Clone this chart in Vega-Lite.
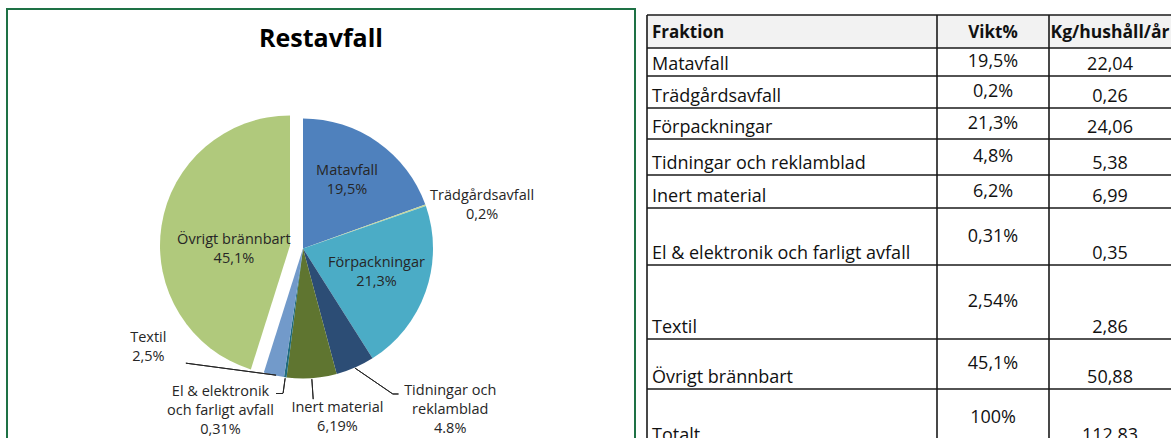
{
  "$schema": "https://vega.github.io/schema/vega-lite/v6.json",
  "padding": {"left": 6, "top": 8, "right": 0, "bottom": 0},
  "background": "white",
  "spacing": 10,
  "config": {"view": {"stroke": null}, "font": "Open Sans", "axis": {"disable": true}},
  "datasets": {
    "pie": [
      {"order": 1, "fraktion": "Matavfall", "vikt": 19.5, "label": "Matavfall\n19,5%"},
      {"order": 2, "fraktion": "Trädgårdsavfall", "vikt": 0.2, "label": "Trädgårdsavfall\n0,2%"},
      {"order": 3, "fraktion": "Förpackningar", "vikt": 21.3, "label": "Förpackningar\n21,3%"},
      {"order": 4, "fraktion": "Tidningar och reklamblad", "vikt": 4.8, "label": "Tidningar och\nreklamblad\n4.8%"},
      {"order": 5, "fraktion": "Inert material", "vikt": 6.19, "label": "Inert material\n6,19%"},
      {"order": 6, "fraktion": "El & elektronik och farligt avfall", "vikt": 0.31, "label": "El & elektronik\noch farligt avfall\n0,31%"},
      {"order": 7, "fraktion": "Textil", "vikt": 2.54, "label": "Textil\n2,5%"},
      {"order": 8, "fraktion": "Övrigt brännbart", "vikt": 45.1, "label": "Övrigt brännbart\n45,1%"}
    ],
    "table": [
      {"row": 1, "fraktion": "Fraktion", "vikt": "Vikt%", "kg": "Kg/hushåll/år"},
      {"row": 2, "fraktion": "Matavfall", "vikt": "19,5%", "kg": "22,04"},
      {"row": 3, "fraktion": "Trädgårdsavfall", "vikt": "0,2%", "kg": "0,26"},
      {"row": 4, "fraktion": "Förpackningar", "vikt": "21,3%", "kg": "24,06"},
      {"row": 5, "fraktion": "Tidningar och reklamblad", "vikt": "4,8%", "kg": "5,38"},
      {"row": 6, "fraktion": "Inert material", "vikt": "6,2%", "kg": "6,99"},
      {"row": 7, "fraktion": "El & elektronik och farligt avfall", "vikt": "0,31%", "kg": "0,35"},
      {"row": 8, "fraktion": "Textil", "vikt": "2,54%", "kg": "2,86"},
      {"row": 9, "fraktion": "Övrigt brännbart", "vikt": "45,1%", "kg": "50,88"},
      {"row": 10, "fraktion": "Totalt", "vikt": "100%", "kg": "112,83"}
    ]
  },
  "hconcat": [
    {
      "width": 628,
      "height": 431,
      "view": {"stroke": "#1e7145", "strokeWidth": 2},
      "title": {"text": "Restavfall", "font": "Open Sans", "fontSize": 25, "fontWeight": "bold", "color": "#000000", "anchor": "middle", "frame": "group", "baseline": "alphabetic", "offset": -63},
      "data": {"name": "pie"},
      "resolve": {"scale": {"theta": "independent"}},
      "layer": [
        {
          "encoding": {
            "theta": {"field": "vikt", "type": "quantitative", "stack": true},
            "order": {"field": "order", "type": "quantitative"},
            "color": {
              "field": "fraktion", "type": "nominal", "legend": null,
              "scale": {
                "domain": ["Matavfall", "Trädgårdsavfall", "Förpackningar", "Tidningar och reklamblad", "Inert material", "El & elektronik och farligt avfall", "Textil", "Övrigt brännbart"],
                "range": ["#4f81bd", "#c4d79b", "#4bacc6", "#2c4d75", "#5f7530", "#1f6b7e", "#729aca", "#b0c97c"]
              }
            }
          },
          "layer": [
            {
              "mark": {"type": "arc", "outerRadius": 130, "xOffset": -18, "yOffset": 24},
              "encoding": {"opacity": {"condition": {"test": "datum.fraktion === 'Övrigt brännbart'", "value": 0}, "value": 1}}
            },
            {
              "mark": {"type": "arc", "outerRadius": 130, "xOffset": -31, "yOffset": 21},
              "encoding": {"opacity": {"condition": {"test": "datum.fraktion === 'Övrigt brännbart'", "value": 1}, "value": 0}}
            },
            {
              "mark": {"type": "arc", "innerRadius": 131, "outerRadius": 151, "padAngle": 0.6, "xOffset": -18, "yOffset": 24, "filled": false, "strokeWidth": 1},
              "encoding": {
                "color": {"value": "#262626"},
                "opacity": {"condition": {"test": "datum.fraktion === 'Inert material'", "value": 1}, "value": 0}
              }
            },
            {
              "mark": {"type": "arc", "innerRadius": 131, "outerRadius": 146, "padAngle": 0.6, "xOffset": -18, "yOffset": 24, "filled": false, "strokeWidth": 1},
              "encoding": {
                "color": {"value": "#262626"},
                "opacity": {"condition": {"test": "datum.fraktion === 'El & elektronik och farligt avfall'", "value": 1}, "value": 0}
              }
            },
            {
              "mark": {"type": "text", "radius": 80, "xOffset": -18, "yOffset": 24, "dx": -2, "dy": -12, "fontSize": 14.5, "lineBreak": "\n", "lineHeight": 19, "align": "center", "baseline": "middle"},
              "encoding": {
                "text": {"condition": {"test": "datum.fraktion === 'Matavfall' || datum.fraktion === 'Förpackningar'", "field": "label", "type": "nominal"}, "value": ""},
                "color": {"value": "#262626"}
              }
            },
            {
              "mark": {"type": "text", "radius": 78, "xOffset": -31, "yOffset": 21, "dx": 21, "dy": 6, "fontSize": 14.5, "lineBreak": "\n", "lineHeight": 19, "align": "center", "baseline": "middle"},
              "encoding": {
                "text": {"condition": {"test": "datum.fraktion === 'Övrigt brännbart'", "field": "label", "type": "nominal"}, "value": ""},
                "color": {"value": "#262626"}
              }
            },
            {
              "mark": {"type": "text", "radius": 175, "xOffset": -18, "yOffset": 24, "dx": 14, "dy": 5.5, "fontSize": 14.5, "lineBreak": "\n", "lineHeight": 19, "align": "center", "baseline": "middle"},
              "encoding": {
                "text": {"condition": {"test": "datum.fraktion === 'Trädgårdsavfall'", "field": "label", "type": "nominal"}, "value": ""},
                "color": {"value": "#262626"}
              }
            },
            {
              "mark": {"type": "text", "radius": 150, "xOffset": -18, "yOffset": 24, "dx": 87, "dy": 5, "fontSize": 14.5, "lineBreak": "\n", "lineHeight": 19, "align": "center", "baseline": "middle"},
              "encoding": {
                "text": {"condition": {"test": "datum.fraktion === 'Tidningar och reklamblad'", "field": "label", "type": "nominal"}, "value": ""},
                "color": {"value": "#262626"}
              }
            },
            {
              "mark": {"type": "text", "radius": 169, "xOffset": -18, "yOffset": 24, "dx": 23, "dy": -9.5, "fontSize": 14.5, "lineBreak": "\n", "lineHeight": 19, "align": "center", "baseline": "middle"},
              "encoding": {
                "text": {"condition": {"test": "datum.fraktion === 'Inert material'", "field": "label", "type": "nominal"}, "value": ""},
                "color": {"value": "#262626"}
              }
            },
            {
              "mark": {"type": "text", "radius": 165, "xOffset": -18, "yOffset": 24, "dx": -60, "dy": -20, "fontSize": 14.5, "lineBreak": "\n", "lineHeight": 19, "align": "center", "baseline": "middle"},
              "encoding": {
                "text": {"condition": {"test": "datum.fraktion === 'El & elektronik och farligt avfall'", "field": "label", "type": "nominal"}, "value": ""},
                "color": {"value": "#262626"}
              }
            },
            {
              "mark": {"type": "text", "radius": 150, "xOffset": -18, "yOffset": 24, "dx": -121, "dy": -56.5, "fontSize": 14.5, "lineBreak": "\n", "lineHeight": 19, "align": "center", "baseline": "middle"},
              "encoding": {
                "text": {"condition": {"test": "datum.fraktion === 'Textil'", "field": "label", "type": "nominal"}, "value": ""},
                "color": {"value": "#262626"}
              }
            }
          ]
        },
        {
          "mark": {"type": "arc", "innerRadius": 10, "outerRadius": 101, "padAngle": 0.6, "xOffset": -35, "yOffset": 152, "filled": false, "strokeWidth": 1},
          "encoding": {
            "theta": {"field": "vikt", "type": "quantitative", "stack": true, "scale": {"range": [1.477, 7.760]}},
            "order": {"field": "order", "type": "quantitative"},
            "color": {"value": "#262626"},
            "opacity": {"condition": {"test": "datum.fraktion === 'Textil'", "value": 1}, "value": 0}
          }
        },
        {
          "mark": {"type": "arc", "innerRadius": 10, "outerRadius": 56, "padAngle": 0.6, "xOffset": 25.7, "yOffset": 137.9, "filled": false, "strokeWidth": 1},
          "encoding": {
            "theta": {"field": "vikt", "type": "quantitative", "stack": true, "scale": {"range": [-0.557, 5.726]}},
            "order": {"field": "order", "type": "quantitative"},
            "color": {"value": "#262626"},
            "opacity": {"condition": {"test": "datum.fraktion === 'Tidningar och reklamblad'", "value": 1}, "value": 0}
          }
        },
        {
          "mark": {"type": "arc", "innerRadius": 10, "outerRadius": 15.5, "padAngle": 0.6, "xOffset": 62, "yOffset": 169.5, "filled": false, "strokeWidth": 1},
          "encoding": {
            "theta": {"field": "vikt", "type": "quantitative", "stack": true, "scale": {"range": [-1.158, 5.125]}},
            "order": {"field": "order", "type": "quantitative"},
            "color": {"value": "#262626"},
            "opacity": {"condition": {"test": "datum.fraktion === 'Tidningar och reklamblad'", "value": 1}, "value": 0}
          }
        },
        {
          "mark": {"type": "arc", "innerRadius": 10, "outerRadius": 17, "padAngle": 0.6, "xOffset": -28, "yOffset": 169, "filled": false, "strokeWidth": 1},
          "encoding": {
            "theta": {"field": "vikt", "type": "quantitative", "stack": true, "scale": {"range": [1.434, 7.717]}},
            "order": {"field": "order", "type": "quantitative"},
            "color": {"value": "#262626"},
            "opacity": {"condition": {"test": "datum.fraktion === 'El & elektronik och farligt avfall'", "value": 1}, "value": 0}
          }
        }
      ]
    },
    {
      "width": 525,
      "height": 430,
      "data": {"name": "table"},
      "resolve": {"scale": {"y": "independent"}},
      "layer": [
        {
          "layer": [
            {
              "transform": [{"filter": "datum.row === 1"}],
              "mark": {"type": "rect", "color": "#f2f2f2", "clip": true},
              "encoding": {
                "x": {"datum": 0, "type": "quantitative", "axis": null, "scale": {"type": "linear", "domain": [0, 1, 2, 3], "range": [1, 291, 403, 525], "nice": false, "zero": false}},
                "x2": {"datum": 3},
                "y": {"datum": 0, "type": "quantitative", "axis": null, "scale": {"type": "linear", "domain": [0, 1, 2, 3, 4, 5, 6, 7, 8, 9, 10], "range": [6, 39, 67, 99, 130, 166, 199, 256, 330, 380, 438], "nice": false, "zero": false}},
                "y2": {"datum": 1}
              }
            },
            {
              "transform": [{"filter": "datum.row < 10"}],
              "mark": {"type": "rule", "color": "#1a1a1a", "strokeWidth": 1.6, "clip": true},
              "encoding": {
                "x": {"datum": 0, "type": "quantitative"},
                "x2": {"datum": 3},
                "y": {"field": "row", "type": "quantitative", "axis": null}
              }
            },
            {
              "transform": [{"filter": "datum.row === 1"}],
              "mark": {"type": "rule", "color": "#1a1a1a", "strokeWidth": 1.6, "clip": true},
              "encoding": {
                "x": {"datum": 0, "type": "quantitative"},
                "x2": {"datum": 3},
                "y": {"datum": 0, "type": "quantitative"}
              }
            },
            {
              "transform": [{"filter": "datum.row === 1"}],
              "mark": {"type": "rule", "color": "#1a1a1a", "strokeWidth": 1.6, "clip": true},
              "encoding": {
                "x": {"datum": 0, "type": "quantitative"},
                "y": {"datum": 0, "type": "quantitative"},
                "y2": {"datum": 10}
              }
            },
            {
              "transform": [{"filter": "datum.row === 1"}],
              "mark": {"type": "rule", "color": "#1a1a1a", "strokeWidth": 1.6, "clip": true},
              "encoding": {
                "x": {"datum": 1, "type": "quantitative"},
                "y": {"datum": 0, "type": "quantitative"},
                "y2": {"datum": 10}
              }
            },
            {
              "transform": [{"filter": "datum.row === 1"}],
              "mark": {"type": "rule", "color": "#1a1a1a", "strokeWidth": 1.6, "clip": true},
              "encoding": {
                "x": {"datum": 2, "type": "quantitative"},
                "y": {"datum": 0, "type": "quantitative"},
                "y2": {"datum": 10}
              }
            },
            {
              "transform": [{"filter": "datum.row === 1"}],
              "mark": {"type": "text", "align": "left", "dx": 5, "dy": -10, "baseline": "alphabetic", "fontSize": 17, "fontWeight": "bold", "color": "#111111", "clip": true},
              "encoding": {
                "x": {"datum": 0, "type": "quantitative"},
                "y": {"field": "row", "type": "quantitative"},
                "text": {"field": "fraktion", "type": "nominal"}
              }
            },
            {
              "transform": [{"filter": "datum.row === 1"}],
              "mark": {"type": "text", "align": "center", "dy": -10, "baseline": "alphabetic", "fontSize": 17, "fontWeight": "bold", "color": "#111111", "clip": true},
              "encoding": {
                "x": {"datum": 1.5, "type": "quantitative"},
                "y": {"field": "row", "type": "quantitative"},
                "text": {"field": "vikt", "type": "nominal"}
              }
            },
            {
              "transform": [{"filter": "datum.row === 1"}],
              "mark": {"type": "text", "align": "center", "dy": -10, "baseline": "alphabetic", "fontSize": 17.5, "fontWeight": "bold", "color": "#111111", "clip": true},
              "encoding": {
                "x": {"datum": 2.5, "type": "quantitative"},
                "y": {"field": "row", "type": "quantitative"},
                "text": {"field": "kg", "type": "nominal"}
              }
            },
            {
              "transform": [{"filter": "datum.row > 1"}],
              "mark": {"type": "text", "align": "left", "dx": 5, "dy": -6, "baseline": "alphabetic", "fontSize": 18, "color": "#111111", "clip": true},
              "encoding": {
                "x": {"datum": 0, "type": "quantitative"},
                "y": {"field": "row", "type": "quantitative"},
                "text": {"field": "fraktion", "type": "nominal"}
              }
            },
            {
              "transform": [{"filter": "datum.row > 1"}],
              "mark": {"type": "text", "align": "center", "dy": -6, "baseline": "alphabetic", "fontSize": 18, "color": "#111111", "clip": true},
              "encoding": {
                "x": {"datum": 2.5, "type": "quantitative"},
                "y": {"field": "row", "type": "quantitative"},
                "text": {"field": "kg", "type": "nominal"}
              }
            }
          ]
        },
        {
          "transform": [{"filter": "datum.row > 1"}],
          "mark": {"type": "text", "align": "center", "baseline": "middle", "fontSize": 18, "color": "#111111", "clip": true},
          "encoding": {
            "x": {"datum": 1.5, "type": "quantitative"},
            "y": {"field": "row", "type": "quantitative", "axis": null, "scale": {"type": "linear", "domain": [1, 2, 3, 4, 5, 6, 7, 8, 9, 10], "range": [22.5, 53, 83, 114.5, 148, 182.5, 227.5, 293, 355, 409], "nice": false, "zero": false}},
            "text": {"field": "vikt", "type": "nominal"}
          }
        }
      ]
    }
  ]
}
